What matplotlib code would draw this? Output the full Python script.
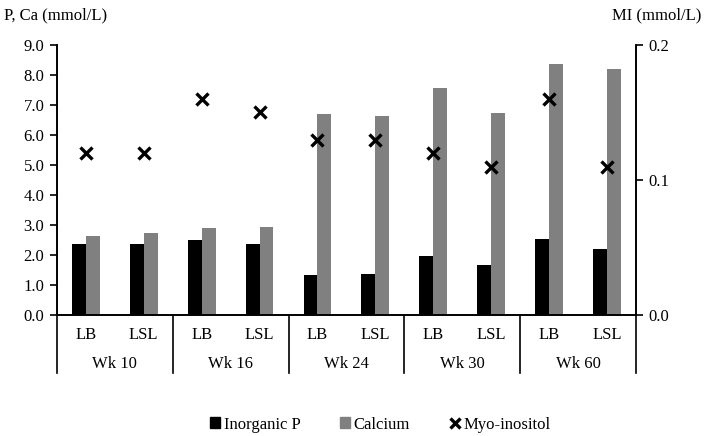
import matplotlib.pyplot as plt
from matplotlib.lines import Line2D
from matplotlib.patches import Patch
from matplotlib.ticker import FormatStrFormatter
import numpy as np

plt.rcParams['font.family'] = ['Liberation Serif', 'DejaVu Serif']
plt.rcParams['font.size'] = 12

strains = ['LB', 'LSL'] * 5
weeks = ['Wk 10', 'Wk 16', 'Wk 24', 'Wk 30', 'Wk 60']
inorganic_p = [2.38, 2.38, 2.50, 2.38, 1.33, 1.37, 1.97, 1.67, 2.53, 2.20]
calcium = [2.62, 2.75, 2.90, 2.93, 6.70, 6.63, 7.57, 6.72, 8.35, 8.20]
myo_inositol = [0.12, 0.12, 0.16, 0.15, 0.13, 0.13, 0.12, 0.11, 0.16, 0.11]

fig = plt.figure(figsize=(7.11, 4.36), dpi=100)
ax = fig.add_axes([0.080, 0.2775, 0.8145, 0.6193])
ax2 = ax.twinx()

x = np.arange(len(strains))
w = 0.24
ax.bar(x - w / 2, inorganic_p, w, color='black')
ax.bar(x + w / 2, calcium, w, color='#808080')
ax2.plot(x, myo_inositol, linestyle='none', marker='x', color='black',
         markersize=8, markeredgewidth=2.4)

ax.set_xlim(-0.5, len(strains) - 0.5)
ax.set_ylim(0, 9)
ax.set_yticks(np.arange(0, 9.1, 1.0))
ax.yaxis.set_major_formatter(FormatStrFormatter('%.1f'))
ax2.set_ylim(0, 0.2)
ax2.set_yticks([0, 0.1, 0.2])
ax2.yaxis.set_major_formatter(FormatStrFormatter('%.1f'))

for a in (ax, ax2):
    a.spines['top'].set_visible(False)
    a.spines['left'].set_linewidth(1.2)
    a.spines['right'].set_linewidth(1.2)
    a.spines['bottom'].set_linewidth(1.2)
    a.tick_params(axis='y', length=5, width=1.2, pad=4)
ax.set_xticks([])

# two-level category axis
trans = ax.get_xaxis_transform()
for i, s in enumerate(strains):
    ax.text(i, -0.075, s, transform=trans, ha='center', va='center')
for j, wk in enumerate(weeks):
    ax.text(2 * j + 0.5, -0.18, wk, transform=trans, ha='center', va='center')
for b in np.arange(-0.5, len(strains), 2):
    ax.plot([b, b], [0, -0.213], transform=trans, color='black', lw=1.2,
            clip_on=False)

fig.text(0.005, 0.965, 'P, Ca (mmol/L)', ha='left', va='center')
fig.text(0.987, 0.965, 'MI (mmol/L)', ha='right', va='center')

handles = [Patch(color='black'), Patch(color='#808080'),
           Line2D([], [], linestyle='none', marker='x', color='black',
                  markersize=7, markeredgewidth=2.4)]
fig.legend(handles, ['Inorganic P', 'Calcium', 'Myo-inositol'], ncol=3,
           loc='center', bbox_to_anchor=(0.535, 0.026), frameon=False,
           handlelength=0.6, handleheight=0.6, handletextpad=0.2,
           columnspacing=2.4, borderpad=0)

fig.savefig('out.png', dpi=100)
